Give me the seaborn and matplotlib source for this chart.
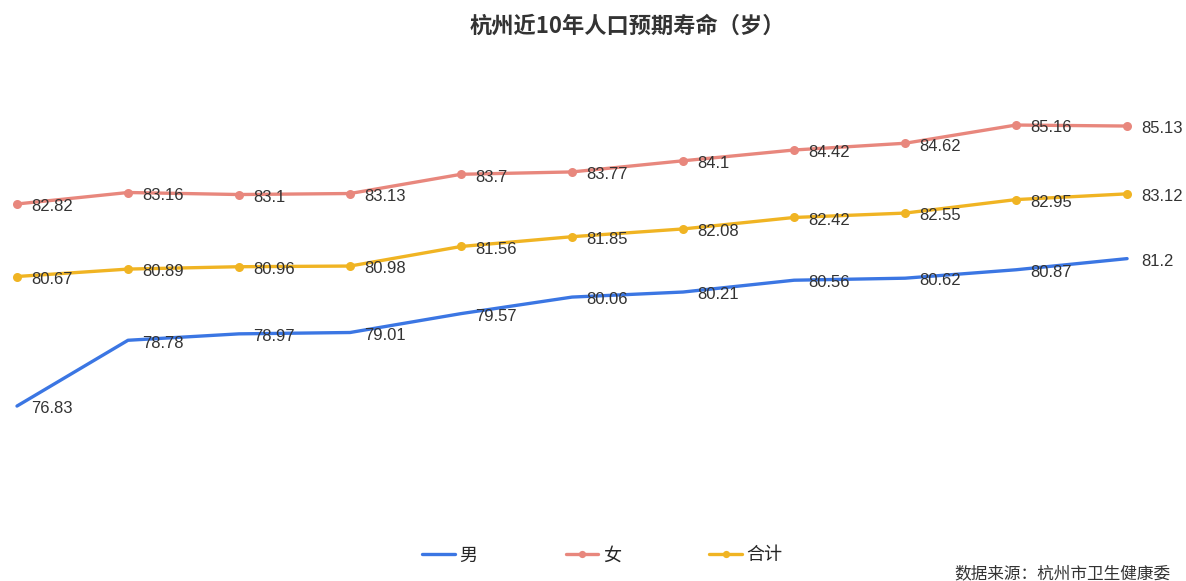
import numpy as np
import pandas as pd
import seaborn as sns
from matplotlib import pyplot as plt

# 杭州近10年人口预期寿命
male = [76.83, 78.78, 78.97, 79.01, 79.57, 80.06, 80.21, 80.56, 80.62, 80.87, 81.2]
female = [82.82, 83.16, 83.1, 83.13, 83.7, 83.77, 84.1, 84.42, 84.62, 85.16, 85.13]
total = [80.67, 80.89, 80.96, 80.98, 81.56, 81.85, 82.08, 82.42, 82.55, 82.95, 83.12]
series_names = ['男', '女', '合计']
colors = ['#3b76e3', '#e8877d', '#f0b423']

idx = list(range(len(male)))
df = pd.DataFrame({'idx': idx * 3,
                   'value': male + female + total,
                   'series': [s for s in series_names for _ in idx]})

sns.set_style('white')
plt.rcParams['font.family'] = ['Noto Sans CJK SC', 'DejaVu Sans']

fig = plt.figure(figsize=(11.86, 5.81), dpi=100)
ax = fig.add_axes([0.01433, 0.1368, 0.936, 0.8129])

for name, col in zip(series_names, colors):
    sub = df[df.series == name]
    mk = None if name == '男' else 'o'
    sns.lineplot(data=sub, x='idx', y='value', ax=ax, color=col, lw=2.4,
                 marker=mk, markersize=6.5, markeredgewidth=0, label=name,
                 clip_on=False)
    for x, y in zip(sub.idx, sub.value):
        ax.annotate(f'{y:g}', (x, y), xytext=(10, -2), textcoords='offset points',
                    ha='left', va='center', fontsize=12, color='#333333',
                    family=['Liberation Sans', 'DejaVu Sans'])

ax.set_xlim(0, 10)
ax.set_ylim(74, 88)
ax.axis('off')

leg = ax.legend(loc='center', bbox_to_anchor=(0.508, 0.044), bbox_transform=fig.transFigure,
                ncol=3, frameon=False, handlelength=1.8, columnspacing=4.9,
                handletextpad=0.25, fontsize=13, markerscale=0.8)

fig.text(0.529, 0.955, '杭州近10年人口预期寿命（岁）', ha='center', va='center',
         fontsize=16, fontweight='bold', color='#333333')
fig.text(0.987, 0.012, '数据来源：杭州市卫生健康委', ha='right', va='center',
         fontsize=12, color='#333333')

fig.savefig('out.png', dpi=100)
